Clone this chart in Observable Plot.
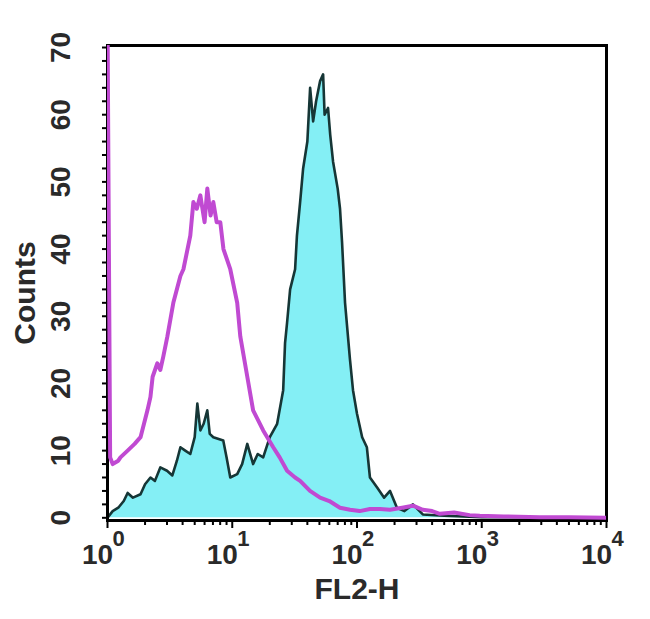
<!DOCTYPE html>
<html><head><meta charset="utf-8">
<script src="https://cdn.jsdelivr.net/npm/d3@7"></script>
<script src="https://cdn.jsdelivr.net/npm/@observablehq/plot@0.6"></script>
<style>body{margin:0;background:#fff}#chart svg{font-family:"Liberation Sans",Arial,sans-serif;background:#fff}</style>
</head><body><div id="chart"></div>
<script>
// Control (isotype, magenta outline)
const controlX = [1.0, 1.05, 1.10, 1.22, 1.27, 1.45, 1.65, 1.84, 2.09, 2.21, 2.3, 2.51, 2.65, 2.8, 3.02, 3.37, 3.84, 4.06, 4.61, 4.88, 5.2, 5.55, 6.0, 6.31, 6.7, 7.05, 7.5, 8.02, 8.5, 9.64, 10.96, 11.6, 13.2, 14.7, 17.7, 21.3, 24, 27.5, 31.9, 35.0, 42, 50.6, 60, 73, 88, 105, 127, 153, 184, 230, 281, 337, 400, 461, 600, 800, 964, 1500, 2911, 5000, 10000];
const controlCounts = [75, 9, 8, 8.5, 9, 10, 11, 12, 16, 18, 21, 23, 22, 24, 27, 32, 36, 37, 42, 47, 46, 48, 44, 49, 45, 47, 44, 44, 40, 37, 32, 27, 21, 16, 13, 10.5, 9, 7, 6, 5.5, 4, 3, 2.5, 1.5, 1.2, 1, 1.3, 1.3, 1.2, 1.5, 1.8, 1.2, 1, 0.6, 0.8, 0.4, 0.3, 0.2, 0.1, 0.1, 0];
// Stained sample (cyan fill, black outline)
const stainedX = [1.0, 1.1, 1.22, 1.35, 1.45, 1.6, 1.84, 2.0, 2.21, 2.4, 2.65, 3.0, 3.31, 3.6, 3.84, 4.2, 4.61, 5.0, 5.25, 5.55, 5.9, 6.31, 6.6, 7.05, 8.47, 9.0, 9.64, 10.96, 12, 13.2, 14.7, 16, 17.7, 20, 22.9, 25.6, 26.5, 27.5, 29.1, 31.9, 33, 35.0, 37.0, 40, 42.1, 44.5, 47, 50.6, 53.5, 55, 58.6, 61, 64.3, 70, 73.1, 75.9, 80.2, 87.9, 92.9, 100, 110, 120, 127, 145, 165, 184, 209, 240, 281, 337, 500, 1000, 10000];
const stainedCounts = [0, 1, 1.5, 2.5, 3.7, 3, 3.5, 5, 6, 5.5, 7.5, 7, 6.3, 8.5, 10.5, 10, 9.5, 12, 17, 13, 14, 16, 12.5, 12, 11.5, 9, 6, 6.5, 8, 11, 8, 9.5, 9, 12, 14, 19, 26, 29, 34, 37, 42, 47, 52, 56, 64, 59, 62, 65, 66, 60, 61, 57, 53, 49, 46, 41, 32, 23.5, 19, 15.5, 12, 10.5, 6, 4.5, 3, 4, 1.5, 1, 2, 0.5, 0.3, 0.1, 0];
const xTickExponents = [0, 1, 2, 3, 4];
const yTickValues = [0, 10, 20, 30, 40, 50, 60, 70];
const xLabel = "FL2-H";
const yLabel = "Counts";

const control = controlX.map((x, i) => ({x, y: controlCounts[i]}));
const stained = stainedX.map((x, i) => ({x, y: stainedCounts[i]}));
const majorX = xTickExponents.map(e => 10 ** e);
const minorX = [];
for (let e = 0; e < 4; e++) for (let m = 2; m <= 9; m++) minorX.push(m * 10 ** e);
const minorY = d3.range(0, 71, 2);

const plot = Plot.plot({
  width: 650, height: 619,
  marginLeft: 107, marginRight: 44, marginTop: 45, marginBottom: 99,
  x: {type: "log", domain: [1, 10000], axis: null},
  y: {domain: [-0.4, 70.3], axis: null},
  style: {fontFamily: "Liberation Sans, Arial, sans-serif", color: "black", background: "white"},
  marks: [
    Plot.areaY(stained, {x: "x", y: "y", fill: "#84eff5", clip: true}),
    Plot.line(stained, {x: "x", y: "y", stroke: "#163636", strokeWidth: 2.6, clip: true}),
    Plot.frame({stroke: "black", strokeWidth: 3}),
    Plot.line(control, {x: "x", y: "y", stroke: "#c04ad2", strokeWidth: 4, clip: true}),
    Plot.axisY({ticks: minorY, tickSize: 5, strokeWidth: 2, tickFormat: () => "", label: null}),
    Plot.axisX({ticks: minorX, tickSize: 5, strokeWidth: 2, tickFormat: () => "", label: null}),
    Plot.axisX({ticks: majorX, tickSize: 8, strokeWidth: 2, tickFormat: () => "", label: null}),
    Plot.text(yTickValues, {y: d => d, text: d => String(d), frameAnchor: "left", textAnchor: "middle", rotate: -90, dx: -46, fontSize: 28, fontWeight: "bold", fill: "#2a2a2a"}),
    Plot.text(majorX, {x: d => d, text: () => "10", frameAnchor: "bottom", textAnchor: "middle", dx: -10, dy: 43, fontSize: 28, fontWeight: "bold", fill: "#2a2a2a"}),
    Plot.text(majorX, {x: d => d, text: d => String(Math.round(Math.log10(d))), frameAnchor: "bottom", textAnchor: "start", dx: 5, dy: 25, fontSize: 22, fontWeight: "bold", fill: "#2a2a2a"}),
    Plot.text([xLabel], {text: d => d, frameAnchor: "bottom", textAnchor: "middle", dy: 78, fontSize: 30, fontWeight: "bold", fill: "#2a2a2a"}),
    Plot.text([yLabel], {text: d => d, frameAnchor: "left", textAnchor: "middle", rotate: -90, dx: -82, dy: 10, fontSize: 30, fontWeight: "bold", fill: "#2a2a2a"})
  ]
});
document.getElementById("chart").appendChild(plot);
</script>
</body></html>
